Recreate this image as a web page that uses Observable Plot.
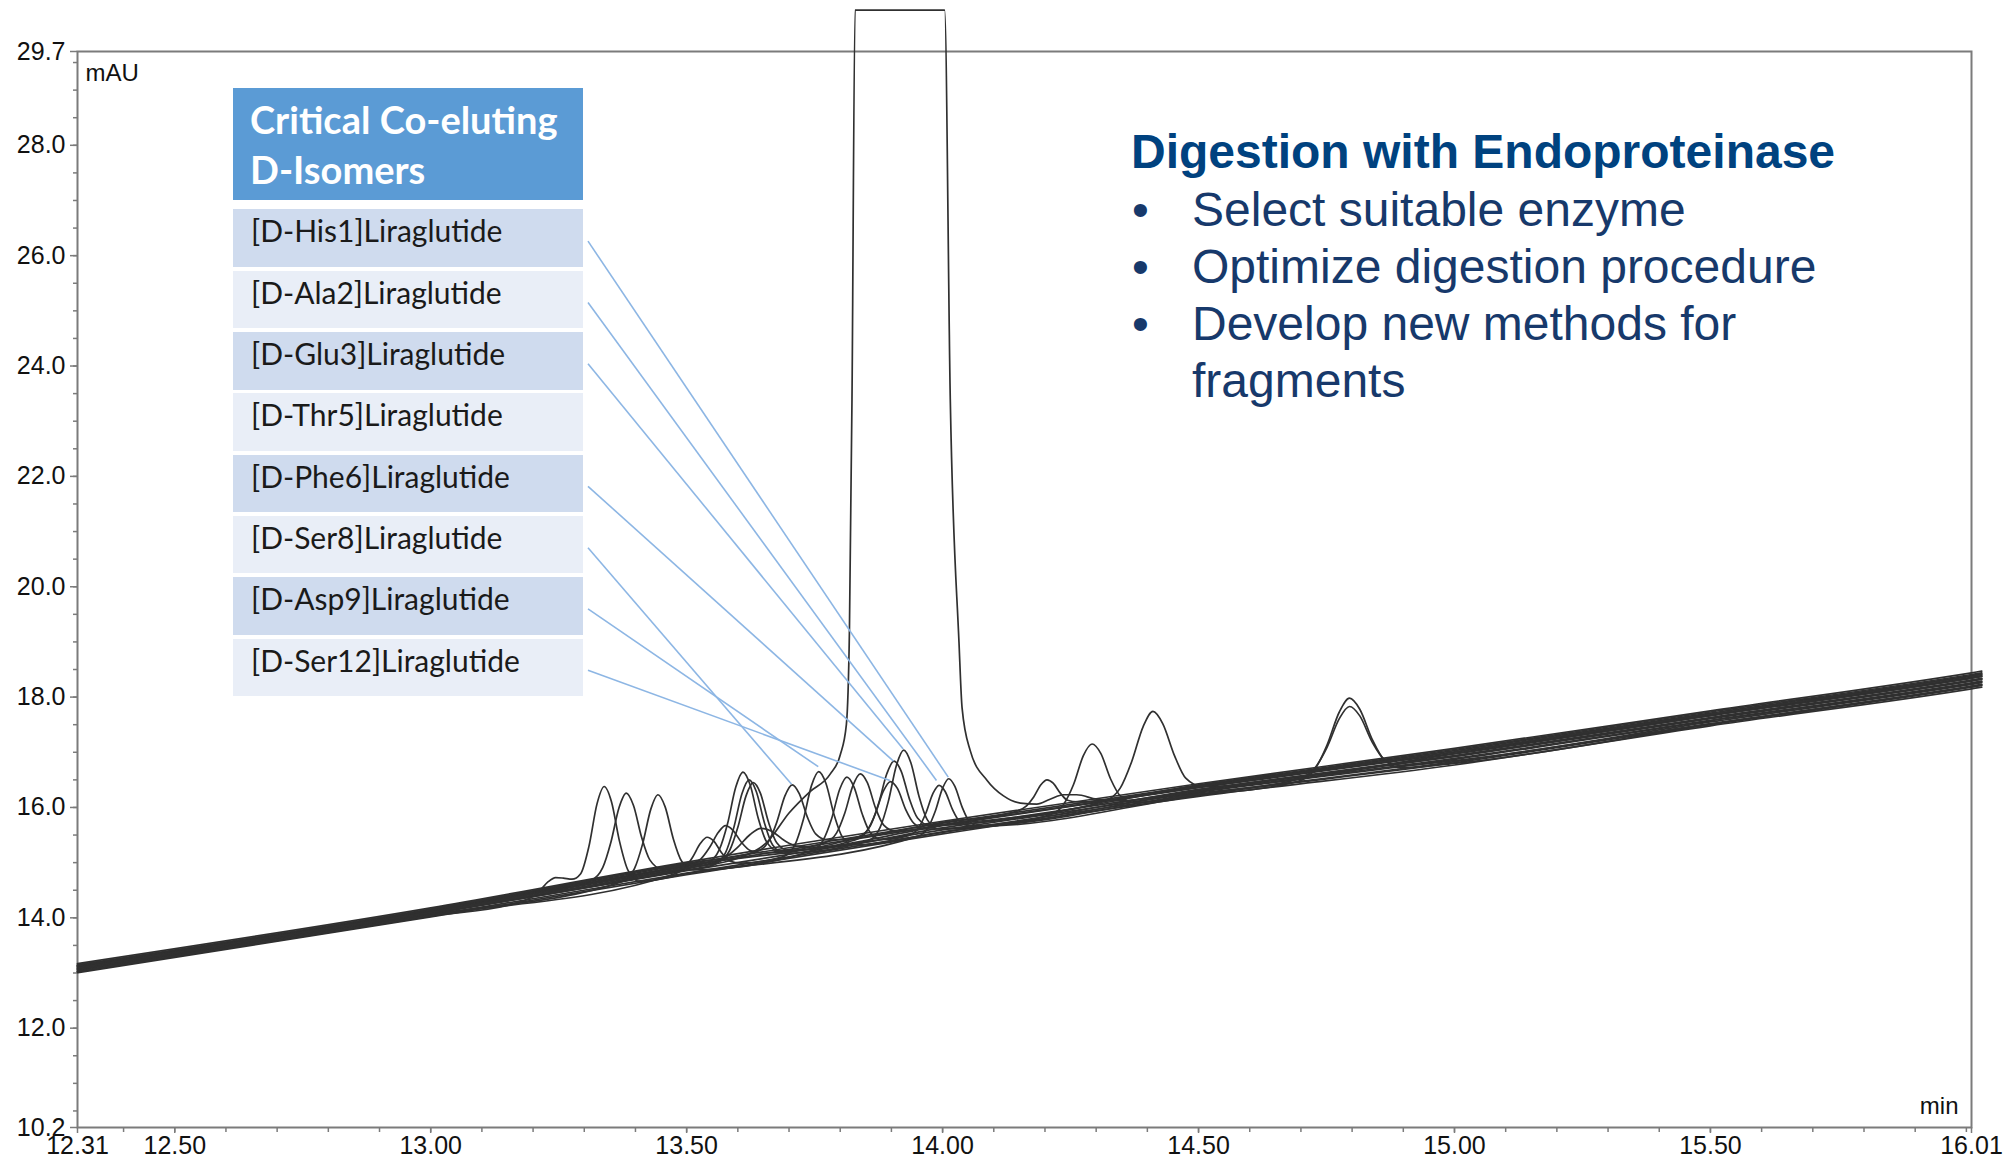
<!DOCTYPE html>
<html><head><meta charset="utf-8">
<script src="https://cdn.jsdelivr.net/npm/d3@7"></script>
<script src="https://cdn.jsdelivr.net/npm/@observablehq/plot@0.6"></script>
<style>
html,body{margin:0;padding:0;background:#fff;}
#wrap{position:relative;width:2008px;height:1159px;overflow:hidden;background:#fff;}
#chart svg{display:block;}
#isoTable{position:absolute;left:233px;top:88px;width:350px;height:610px;font-family:Lato,"Open Sans",sans-serif;}
.hdr{position:absolute;left:0;top:0;width:350px;height:112px;background:#5b9bd5;color:#fff;font-weight:700;font-size:38px;line-height:50px;padding:6px 0 0 17px;box-sizing:border-box;white-space:nowrap;}
.row{position:absolute;left:0;width:350px;height:57.5px;line-height:43px;font-size:30px;color:#1a1a1a;padding-left:18px;box-sizing:border-box;white-space:nowrap;}
.note{position:absolute;font-family:"Liberation Sans",Arial,sans-serif;font-size:48px;line-height:57.3px;white-space:nowrap;}
</style></head>
<body><div id="wrap"><div id="chart"></div><div id="isoTable"></div><div id="notes"></div></div>
<script>
// ---------- axis tick labels ----------
const xTickLabels = [12.31, 12.5, 13.0, 13.5, 14.0, 14.5, 15.0, 15.5, 16.01];
const yTickLabels = [10.2, 12.0, 14.0, 16.0, 18.0, 20.0, 22.0, 24.0, 26.0, 28.0, 29.7];
const xMinorTicks = d3.range(12.4, 16.0001, 0.1).map(v => +v.toFixed(2));
const yMinorTicks = d3.range(10.5, 29.6, 0.5).map(v => +v.toFixed(1));

// ---------- chromatogram traces [time (min), absorbance (mAU)] ----------
const mainSample = [[12.31,13.09],[13.0,14.10],[13.5,14.90],[13.60,15.08],[13.66,15.40],[13.70,15.90],[13.74,16.28],[13.78,16.60],[13.80,16.95],[13.812,17.5],[13.818,19.2],[13.823,23.4],[13.829,30.45],[14.004,30.45],[14.015,23.4],[14.032,19.0],[14.038,17.81],[14.054,17.03],[14.087,16.49],[14.119,16.21],[14.152,16.08],[14.184,16.06],[14.210,16.15],[14.236,16.23],[14.262,16.23],[14.301,16.15],[14.35,16.12],[14.5,16.32],[15.0,16.93],[15.5,17.62],[16.01,18.30],[16.03,18.33]];
const his1Trace = [[12.31,13.02],[13.0,14.03],[13.169,14.27],[13.194,14.36],[13.212,14.48],[13.229,14.65],[13.244,14.73],[13.259,14.72],[13.276,14.70],[13.293,14.80],[13.309,15.29],[13.325,16.07],[13.339,16.38],[13.353,16.11],[13.369,15.38],[13.385,14.87],[13.408,14.66],[13.5,14.80],[13.952,15.48],[13.972,15.64],[13.986,15.94],[14.000,16.35],[14.012,16.52],[14.024,16.38],[14.038,16.01],[14.052,15.75],[14.072,15.66],[14.5,16.22],[14.693,16.47],[14.727,16.69],[14.751,17.13],[14.775,17.73],[14.795,17.98],[14.815,17.78],[14.839,17.24],[14.863,16.86],[14.897,16.72],[15.0,16.80],[15.5,17.50],[16.01,18.18],[16.03,18.21]];
const ala2Trace = [[12.31,13.05],[13.0,14.06],[13.375,14.66],[13.398,14.89],[13.414,15.34],[13.430,15.97],[13.444,16.23],[13.458,16.01],[13.474,15.43],[13.490,15.03],[13.513,14.87],[13.744,15.21],[13.767,15.41],[13.783,15.79],[13.799,16.33],[13.813,16.55],[13.827,16.37],[13.843,15.88],[13.859,15.54],[13.882,15.42],[13.933,15.49],[13.953,15.63],[13.967,15.89],[13.981,16.25],[13.993,16.40],[14.005,16.29],[14.019,15.97],[14.033,15.75],[14.053,15.67],[14.5,16.26],[14.693,16.51],[14.727,16.71],[14.751,17.09],[14.775,17.61],[14.795,17.83],[14.815,17.66],[14.839,17.19],[14.863,16.87],[14.897,16.76],[15.0,16.85],[15.5,17.55],[16.01,18.23],[16.03,18.26]];
const glu3Trace = [[12.31,13.07],[13.0,14.08],[13.5,14.87],[13.553,14.96],[13.576,15.18],[13.592,15.63],[13.608,16.25],[13.622,16.50],[13.636,16.29],[13.652,15.72],[13.668,15.32],[13.691,15.17],[13.855,15.40],[13.878,15.64],[13.894,16.11],[13.910,16.77],[13.924,17.04],[13.938,16.81],[13.954,16.20],[13.970,15.78],[13.993,15.61],[14.5,16.29],[15.0,16.89],[15.5,17.58],[16.01,18.26],[16.03,18.29]];
const thr5Trace = [[12.31,13.11],[13.0,14.12],[13.5,14.93],[13.541,15.00],[13.564,15.24],[13.580,15.71],[13.596,16.37],[13.610,16.64],[13.624,16.41],[13.640,15.80],[13.656,15.38],[13.679,15.21],[14.0,15.67],[14.315,16.11],[14.347,16.35],[14.369,16.82],[14.392,17.47],[14.411,17.74],[14.430,17.52],[14.453,16.94],[14.475,16.53],[14.507,16.38],[15.0,16.97],[15.5,17.66],[16.01,18.34],[16.03,18.37]];
const phe6Trace = [[12.31,13.13],[13.0,14.14],[13.313,14.68],[13.336,14.91],[13.352,15.37],[13.368,16.00],[13.382,16.26],[13.396,16.04],[13.412,15.46],[13.428,15.05],[13.451,14.89],[13.5,14.96],[13.836,15.47],[13.859,15.67],[13.875,16.07],[13.891,16.61],[13.905,16.84],[13.919,16.66],[13.935,16.16],[13.951,15.81],[13.974,15.68],[14.5,16.38],[15.0,17.01],[15.5,17.69],[16.01,18.38],[16.03,18.41]];
const ser8Trace = [[12.31,13.15],[13.0,14.16],[13.5,14.99],[13.637,15.20],[13.660,15.38],[13.676,15.73],[13.692,16.21],[13.706,16.41],[13.720,16.25],[13.736,15.82],[13.752,15.52],[13.775,15.41],[14.0,15.73],[14.144,15.93],[14.164,16.03],[14.178,16.19],[14.192,16.41],[14.204,16.50],[14.216,16.44],[14.230,16.26],[14.244,16.13],[14.264,16.10],[14.5,16.41],[15.0,17.05],[15.5,17.73],[16.01,18.41],[16.03,18.44]];
const asp9Trace = [[12.31,13.03],[13.0,14.04],[13.474,14.79],[13.496,14.90],[13.511,15.09],[13.527,15.35],[13.540,15.46],[13.553,15.39],[13.569,15.17],[13.584,15.03],[13.606,14.99],[13.689,15.11],[13.712,15.33],[13.728,15.78],[13.744,16.40],[13.758,16.65],[13.772,16.44],[13.788,15.87],[13.804,15.47],[13.827,15.32],[14.0,15.56],[14.208,15.86],[14.236,16.05],[14.256,16.42],[14.275,16.94],[14.292,17.15],[14.309,16.98],[14.328,16.52],[14.348,16.20],[14.376,16.09],[14.5,16.24],[15.0,16.83],[15.5,17.52],[16.01,18.20],[16.03,18.23]];
const ser12Trace = [[12.31,13.10],[13.0,14.11],[13.5,14.91],[13.561,15.01],[13.584,15.22],[13.600,15.64],[13.616,16.21],[13.630,16.45],[13.644,16.26],[13.660,15.73],[13.676,15.36],[13.699,15.22],[13.829,15.41],[13.852,15.57],[13.868,15.87],[13.884,16.29],[13.898,16.47],[13.912,16.34],[13.928,15.96],[13.944,15.71],[13.967,15.61],[14.5,16.33],[15.0,16.94],[15.5,17.63],[16.01,18.31],[16.03,18.34]];
const spikeTraceA = [[12.31,13.13],[13.0,14.14],[13.45,14.87],[13.504,14.96],[13.528,15.07],[13.545,15.28],[13.562,15.55],[13.576,15.67],[13.590,15.59],[13.607,15.37],[13.624,15.22],[13.648,15.17],[13.770,15.36],[13.793,15.54],[13.809,15.90],[13.825,16.40],[13.839,16.61],[13.853,16.45],[13.869,15.99],[13.885,15.68],[13.908,15.57],[14.0,15.69],[14.5,16.37],[15.0,17.00],[15.5,17.68],[16.01,18.36],[16.03,18.39]];
const spikeTraceB = [[12.31,13.08],[13.0,14.09],[13.5,14.89],[13.540,14.97],[13.575,15.09],[13.599,15.27],[13.624,15.51],[13.645,15.62],[13.666,15.57],[13.691,15.40],[13.715,15.30],[13.750,15.28],[14.0,15.63],[14.5,16.31],[15.0,16.92],[15.5,17.61],[16.01,18.29],[16.03,18.32]];
const blankTraceA = [[12.31,13.17],[13.0,14.18],[13.5,15.01],[14.0,15.75],[14.5,16.43],[15.0,17.07],[15.5,17.75],[16.01,18.44],[16.03,18.47]];
const blankTraceB = [[12.31,13.005],[13.0,14.015],[13.5,14.78],[14.0,15.52],[14.5,16.20],[15.0,16.77],[15.5,17.48],[16.01,18.15],[16.03,18.18]];
const blankTraceC = [[12.31,13.12],[13.0,14.13],[13.5,14.94],[14.0,15.68],[14.5,16.36],[15.0,16.98],[15.5,17.67],[16.01,18.35],[16.03,18.38]];
const blankTraceD = [[12.31,13.06],[13.0,14.07],[13.5,14.855],[14.0,15.595],[14.5,16.275],[15.0,16.87],[15.5,17.57],[16.01,18.245],[16.03,18.275]];
const blankTraceE = [[12.31,13.14],[13.0,14.15],[13.5,14.975],[14.0,15.715],[14.5,16.395],[15.0,17.03],[15.5,17.71],[16.01,18.39],[16.03,18.42]];
const blankTraceF = [[12.31,13.03],[13.0,14.04],[13.5,14.81],[14.0,15.55],[14.5,16.23],[15.0,16.81],[15.5,17.51],[16.01,18.19],[16.03,18.22]];

// ---------- annotation table ----------
const tableTitle = ["Critical Co-eluting", "D-Isomers"];
const isomerNames = ["[D-His1]Liraglutide","[D-Ala2]Liraglutide","[D-Glu3]Liraglutide","[D-Thr5]Liraglutide","[D-Phe6]Liraglutide","[D-Ser8]Liraglutide","[D-Asp9]Liraglutide","[D-Ser12]Liraglutide"];
// peak each leader line points at (min, mAU); null = no leader line
const leaderTime  = [14.012, 13.989, 13.924, null, 13.905, 13.706, 13.758, 13.898];
const leaderValue = [16.54, 16.48, 17.05, null, 16.83, 16.41, 16.73, 16.48];

const noteTitle = "Digestion with Endoproteinase";
const noteBullets = ["Select suitable enzyme", "Optimize digestion procedure", "Develop new methods for"];
const noteContinuation = "fragments";

// ---------- build ----------
const traceList = [
  ["blank A", blankTraceA], ["blank B", blankTraceB], ["blank C", blankTraceC], ["blank D", blankTraceD],
  ["blank E", blankTraceE], ["blank F", blankTraceF], ["spike A", spikeTraceA], ["spike B", spikeTraceB],
  ["His1", his1Trace], ["Ala2", ala2Trace], ["Glu3", glu3Trace], ["Thr5", thr5Trace], ["Phe6", phe6Trace],
  ["Ser8", ser8Trace], ["Asp9", asp9Trace], ["Ser12", ser12Trace], ["main", mainSample]
];
const rows = traceList.flatMap(([name, pts]) => pts.map(([time, mAU]) => ({trace: name, time, mAU})));

const axisColor = "#7b7b7b";
const chart = Plot.plot({
  width: 2008, height: 1159,
  marginLeft: 77, marginRight: 37, marginTop: 51, marginBottom: 32,
  x: {domain: [12.31, 16.01], label: null},
  y: {domain: [10.2, 29.7], label: null},
  style: {fontFamily: "'Liberation Sans', Arial, sans-serif", background: "white", color: "#111", overflow: "visible"},
  marks: [
    Plot.axisX(xMinorTicks, {tickSize: 5, stroke: axisColor, strokeWidth: 1.5, tickFormat: () => "", label: null}),
    Plot.axisX(xTickLabels, {tickSize: 6, tickPadding: 3, strokeWidth: 1.5, tickFormat: d => d.toFixed(2), fontSize: 25, stroke: axisColor, fill: "#111", label: null}),
    Plot.axisY(yMinorTicks, {tickSize: 4, stroke: axisColor, strokeWidth: 1.5, tickFormat: () => "", label: null}),
    Plot.axisY(yTickLabels, {tickSize: 7, tickPadding: 5, strokeWidth: 1.5, tickFormat: d => d.toFixed(1), fontSize: 25, stroke: axisColor, fill: "#111", label: null}),
    Plot.frame({stroke: axisColor, strokeWidth: 2}),
    Plot.line(rows, {x: "time", y: "mAU", z: "trace", stroke: "#303030", strokeWidth: 1.7, curve: "monotone-x"}),
    Plot.text(["mAU"], {text: d => d, frameAnchor: "top-left", dx: 8, dy: 29, fontSize: 24, textAnchor: "start", lineAnchor: "bottom", fill: "#111"}),
    Plot.text(["min"], {text: d => d, frameAnchor: "bottom-right", dx: -13, dy: -14, fontSize: 24, textAnchor: "end", lineAnchor: "bottom", fill: "#111"})
  ]
});
document.getElementById("chart").appendChild(chart);

// table
const tbl = document.getElementById("isoTable");
const tableLeft = 233, tableTop = 88, tableWidth = 350;
const rowTop0 = 121.4, rowPitch = 61.3, rowH = 57.5;
const hdr = document.createElement("div");
hdr.className = "hdr";
hdr.innerHTML = tableTitle.join("<br>");
tbl.appendChild(hdr);
isomerNames.forEach((n, i) => {
  const r = document.createElement("div");
  r.className = "row";
  r.style.top = (rowTop0 + i * rowPitch) + "px";
  r.style.background = i % 2 === 0 ? "#cfdbee" : "#e9eef7";
  r.textContent = n;
  tbl.appendChild(r);
});

// leader lines from table rows to peaks (peak end uses the plot's scales)
const sx = chart.scale("x"), sy = chart.scale("y");
const leaders = d3.select(chart).append("g").attr("stroke", "#8db6e4").attr("stroke-width", 1.6).attr("fill", "none");
isomerNames.forEach((n, i) => {
  if (leaderTime[i] == null) return;
  leaders.append("line")
    .attr("x1", tableLeft + tableWidth + 5)
    .attr("y1", tableTop + rowTop0 + i * rowPitch + rowH / 2 + 3)
    .attr("x2", sx.apply(leaderTime[i]))
    .attr("y2", sy.apply(leaderValue[i]));
});

// notes
const notes = document.getElementById("notes");
function addNote(text, left, top, color, bold) {
  const d = document.createElement("div");
  d.className = "note";
  d.style.left = left + "px"; d.style.top = top + "px";
  d.style.color = color; if (bold) d.style.fontWeight = "700";
  d.textContent = text;
  notes.appendChild(d);
}
const noteTop = 123, notePitch = 57.2;
addNote(noteTitle, 1131, noteTop, "#00427f", true);
noteBullets.forEach((b, i) => {
  const top = noteTop + 57.7 + i * notePitch;
  addNote("\u2022", 1132, top, "#17396b", false);
  addNote(b, 1192, top, "#17396b", false);
});
addNote(noteContinuation, 1192, noteTop + 57.7 + 3 * notePitch, "#17396b", false);
</script></body></html>
